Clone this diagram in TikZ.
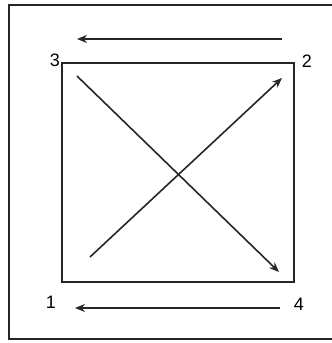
\documentclass[tikz,border=0pt]{standalone}
\usepackage{fontspec}
\setmainfont{Liberation Sans}
\usetikzlibrary{arrows.meta,positioning}
\tikzset{
  corner/.style={font=\fontsize{18}{18}\selectfont, inner sep=0pt},
  frameline/.style={line width=1.5pt, black!85},
  moveline/.style={-{Stealth[length=10pt,width=8pt]}, line width=1.6pt, black!85}
}
\begin{document}
\begin{tikzpicture}[x=1pt,y=-1pt]
  \useasboundingbox (0,0) rectangle (332,343);

  % outer frame, open at the right
  \coordinate (o1) at (332,5);
  \coordinate (o2) at (9,5);
  \coordinate (o3) at (9,339);
  \coordinate (o4) at (332,339);
  \draw[frameline] (o1) -- (o2) -- (o3) -- (o4);

  % inner square
  \coordinate (sq1) at (62,63);
  \coordinate (sq2) at (294,282);
  \draw[frameline] (sq1) rectangle (sq2);

  % corner numbers
  \node[corner] (n3) at (55,60)  {3};
  \node[corner] (n2) at (307,61) {2};
  \node[corner] (n1) at (51,302) {1};
  \node[corner] (n4) at (299,304) {4};

  % arrows
  \coordinate (ta) at (282,39);
  \coordinate (tb) at (77,39);
  \coordinate (ba) at (280,308);
  \coordinate (bb) at (75,308);
  \coordinate (da) at (77,76);
  \coordinate (db) at (279,272);
  \coordinate (ea) at (90,257);
  \coordinate (eb) at (282,78);

  \draw[moveline] (ta) -- (tb);
  \draw[moveline] (ba) -- (bb);
  \draw[moveline] (da) -- (db);
  \draw[moveline] (ea) -- (eb);
\end{tikzpicture}
\end{document}
